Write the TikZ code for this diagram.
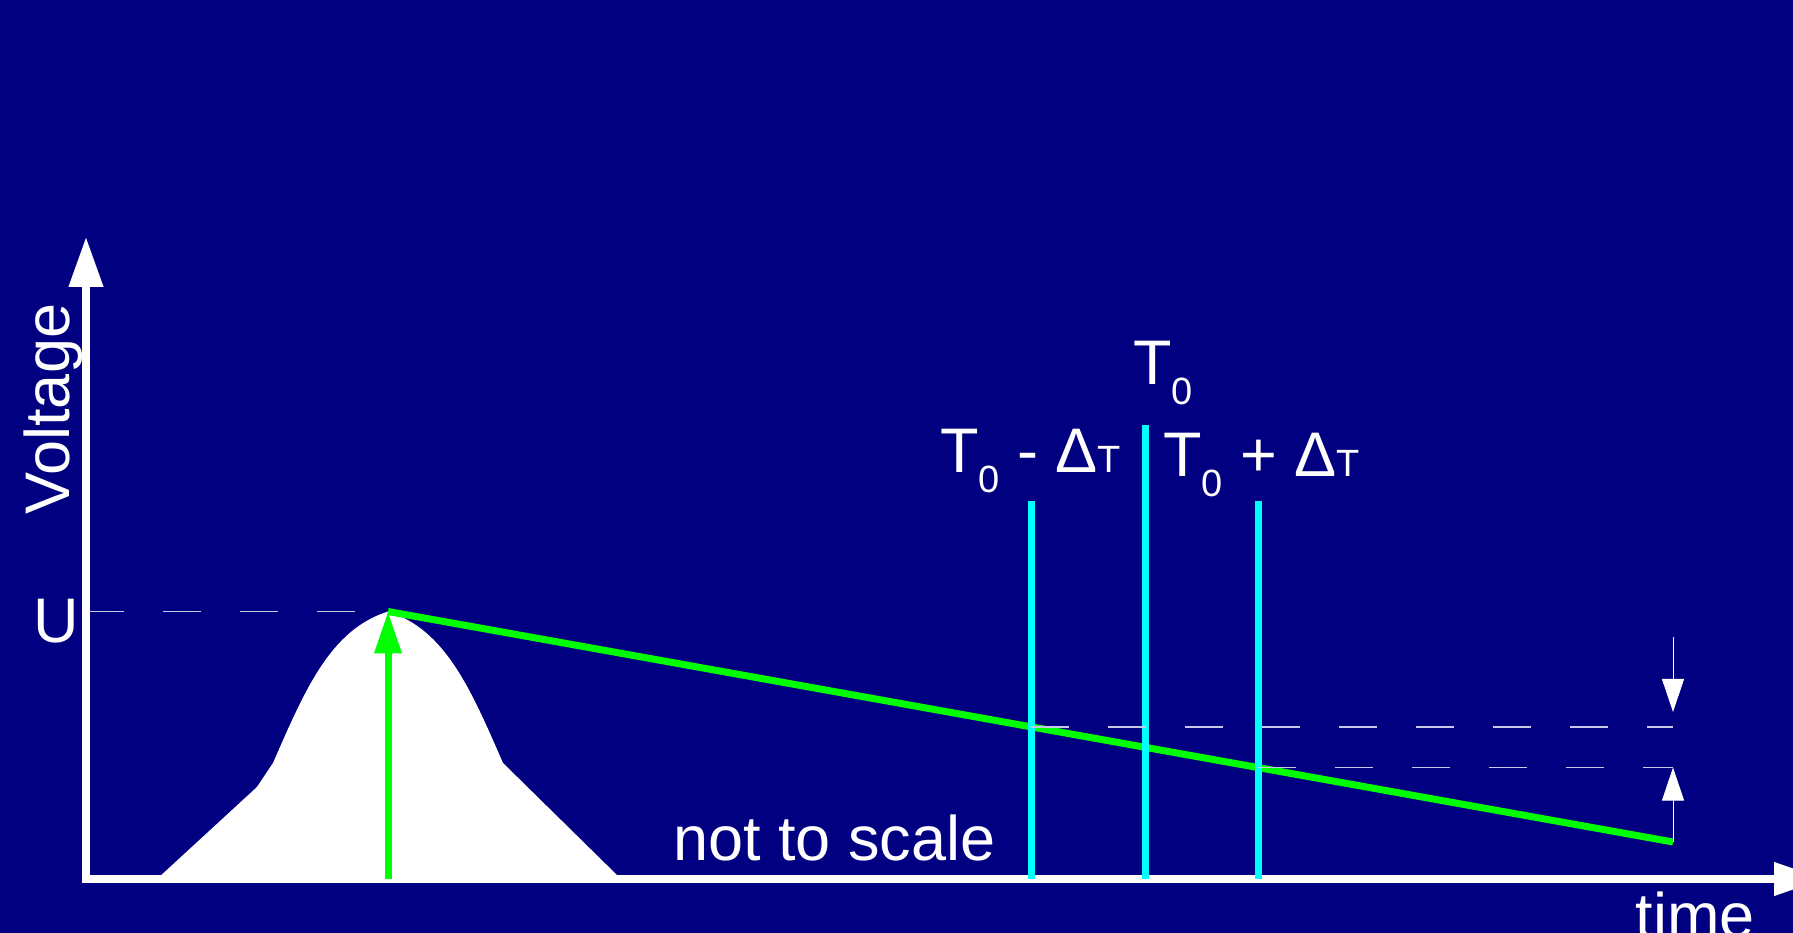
\documentclass[tikz,border=0pt]{standalone}
\usepackage{fontspec}
\setmainfont{Liberation Sans}
\usetikzlibrary{arrows.meta}
\definecolor{bgnavy}{RGB}{0,0,128}
\definecolor{pulsegreen}{RGB}{0,255,0}
\definecolor{gatecyan}{RGB}{0,255,255}
\definecolor{guide}{RGB}{200,200,230}
\newcommand{\biglbl}{\fontsize{63}{70}\selectfont}
\newcommand{\smlbl}{\fontsize{38}{40}\selectfont}
\newcommand{\subzero}{\raisebox{-20pt}{\smlbl 0}}

\begin{document}
\begin{tikzpicture}[
    x=1pt, y=1pt,
    axis/.style={white, line width=7.5pt, line join=miter},
    pulse/.style={pulsegreen, line width=7pt},
    gate/.style={gatecyan, line width=7pt},
    guideline/.style={guide, line width=1.5pt, dash pattern=on 38pt off 39pt},
    marker/.style={white, line width=1pt, -{Triangle[length=33pt, width=22pt]}},
    lbl/.style={text=white, inner sep=0pt, font=\biglbl}
  ]
  \useasboundingbox (0,0) rectangle (1793,933);
  \clip (0,0) rectangle (1793,933);
  \fill[bgnavy] (0,0) rectangle (1793,933);

  \coordinate (o) at (86,54);
  \coordinate (ytip) at (86,696);
  \coordinate (xtip) at (1824,54);
  \coordinate (peak) at (388,321.5);
  \coordinate (pbase) at (peak |- o);
  \coordinate (tail) at (1673,91);
  \coordinate (g1) at (1031,432);
  \coordinate (g2) at (1145,508);
  \coordinate (g3) at (1258,432);
  \coordinate (g1b) at (g1 |- o);
  \coordinate (g2b) at (g2 |- o);
  \coordinate (g3b) at (g3 |- o);
  \coordinate (x1) at (intersection of peak--tail and g1--g1b);
  \coordinate (x3) at (intersection of peak--tail and g3--g3b);
  \coordinate (m1) at (1673,296);
  \coordinate (m1e) at (1673,221);

  \fill[white] (157,54) -- (257,146) -- (273,170) .. controls (305,243) and (330,303) .. (peak)
    .. controls (446,303) and (471,243) .. (503,170) -- (621,54) -- cycle;
  \draw[guideline] (o |- peak) -- (peak);
  \draw[axis, {Triangle[length=50pt, width=33pt]}-{Triangle[length=50pt, width=32pt]}] (ytip) -- (o) -- (xtip);

  \draw[pulse, -{Triangle[length=42pt, width=26pt]}] (pbase) -- (peak);
  \draw[pulse] (peak) -- (tail);
  \draw[gate] (g1b) -- (g1);
  \draw[gate] (g2b) -- (g2);
  \draw[gate] (g3b) -- (g3);

  \draw[guideline] (x1) -- (x1 -| tail);
  \draw[guideline] (x3) -- (x3 -| tail);
  \draw[marker] (m1) -- (m1e);
  \draw[marker] (tail) -- (x3 -| tail);

  \node[lbl, rotate=90, anchor=base] (volt) at (69,524) {Voltage};
  \node[lbl, anchor=base] (u) at (56.5,290) {U};
  \node[lbl, anchor=base] (scale) at (834.5,72) {not to scale};
  \node[lbl, anchor=base] (time) at (1695,-5) {time};
  \node[lbl, anchor=base west] (t0) at (1133,548) {T\subzero};
  \node[lbl, anchor=base west] (tminus) at (940,460) {T\subzero{} - Δ{\smlbl T}};
  \node[lbl, anchor=base west] (tplus) at (1163,456) {T\subzero{} + Δ{\smlbl T}};
\end{tikzpicture}
\end{document}
